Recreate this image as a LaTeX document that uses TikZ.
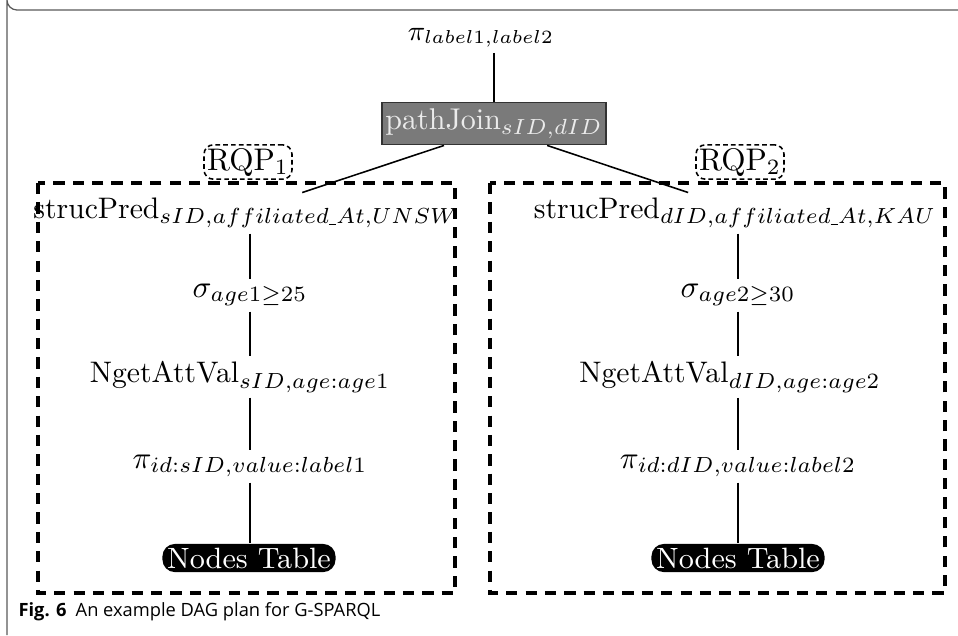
\documentclass[tikz,border=0pt]{standalone}
\usepackage{fontspec}
\newfontfamily\capfont{Open Sans}
\newcommand{\usc}{\rule[-0.3pt]{2.4pt}{0.4pt}}
\begin{document}
\begin{tikzpicture}[x=0.32pt,y=-0.32pt,
  op/.style={inner sep=1.5pt, font=\fontsize{10}{12}\selectfont},
  opsm/.style={inner sep=1.5pt, font=\fontsize{9.5}{11.5}\selectfont},
  joinbox/.style={draw=black!80, line width=0.5pt, fill=black!52, text=black!8, inner xsep=1.2pt, inner ysep=2pt, font=\fontsize{9.6}{11.5}\selectfont},
  tblbox/.style={fill=black, text=white, rounded corners=4pt, inner sep=1.2pt, inner xsep=1.5pt, font=\fontsize{9.4}{11}\selectfont},
  rqpbox/.style={draw, dashed, rounded corners=3pt, inner sep=1pt, line width=0.5pt, dash pattern=on 1.5pt off 1pt, font=\fontsize{10}{12}\selectfont},
  region/.style={draw, line width=1.3pt, dash pattern=on 3.6pt off 2.6pt},
  link/.style={draw, line width=0.5pt},
  frame/.style={draw=black!65, line width=0.4pt}
]
\useasboundingbox (0,0) rectangle (958,635);
% outer frame (open at right and bottom)
\draw[frame] (958,10) -- (17,10) arc[start angle=90, end angle=180, radius=10] -- (7,635);

% top
\node[op, font=\fontsize{9}{11}\selectfont] (pi) at (481,38) {$\pi_{label1,label2}$};
\node[joinbox] (join) at (494,123.5) {pathJoin$_{sID,dID}$};

% regions
\draw[region] (38,183) rectangle (455,593);
\draw[region] (490,183) rectangle (945,593);
\node[rqpbox] (rqp1) at (248,162) {RQP$_1$};
\node[rqpbox] (rqp2) at (740,162) {RQP$_2$};

% left tree
\node[opsm] (sp1) at (246,213) {strucPred$_{sID,affiliated\usc At,UNSW}$};
\node[op] (sg1) at (250,295) {$\sigma_{age1\geq 25}$};
\node[opsm] (ng1) at (240,377) {NgetAttVal$_{sID,age:age1}$};
\node[op] (pp1) at (250,466) {$\pi_{id:sID,value:label1}$};
\node[tblbox] (nt1) at (249,558) {Nodes Table};

% right tree
\node[opsm] (sp2) at (735,213) {strucPred$_{dID,affiliated\usc At,KAU}$};
\node[op] (sg2) at (738,295) {$\sigma_{age2\geq 30}$};
\node[opsm] (ng2) at (730,377) {NgetAttVal$_{dID,age:age2}$};
\node[op] (pp2) at (738,466) {$\pi_{id:dID,value:label2}$};
\node[tblbox] (nt2) at (738,558) {Nodes Table};

% connectors
\draw[link] (pi.south -| join.north) -- (join.north);
\draw[link] ([xshift=-16pt]join.south) -- ([xshift=18pt]sp1.north);
\draw[link] ([xshift=17pt]join.south) -- ([xshift=-15pt]sp2.north);
\draw[link] (sp1.south -| sg1.north) -- (sg1.north);
\draw[link] (sg1.south) -- (ng1.north -| sg1.south);
\draw[link] (ng1.south -| pp1.north) -- (pp1.north);
\draw[link] (pp1) -- (nt1.north -| pp1.south);
\draw[link] (sp2.south -| sg2.north) -- (sg2.north);
\draw[link] (sg2.south) -- (ng2.north -| sg2.south);
\draw[link] (ng2.south -| pp2.north) -- (pp2.north);
\draw[link] (pp2) -- (nt2.north -| pp2.south);

% caption
\node[anchor=west, inner sep=0pt, font=\capfont\fontsize{5.85}{7}\selectfont] (cap) at (18,612) {\textbf{Fig. 6}\hspace{0.5em}An example DAG plan for G-SPARQL};
\end{tikzpicture}
\end{document}
